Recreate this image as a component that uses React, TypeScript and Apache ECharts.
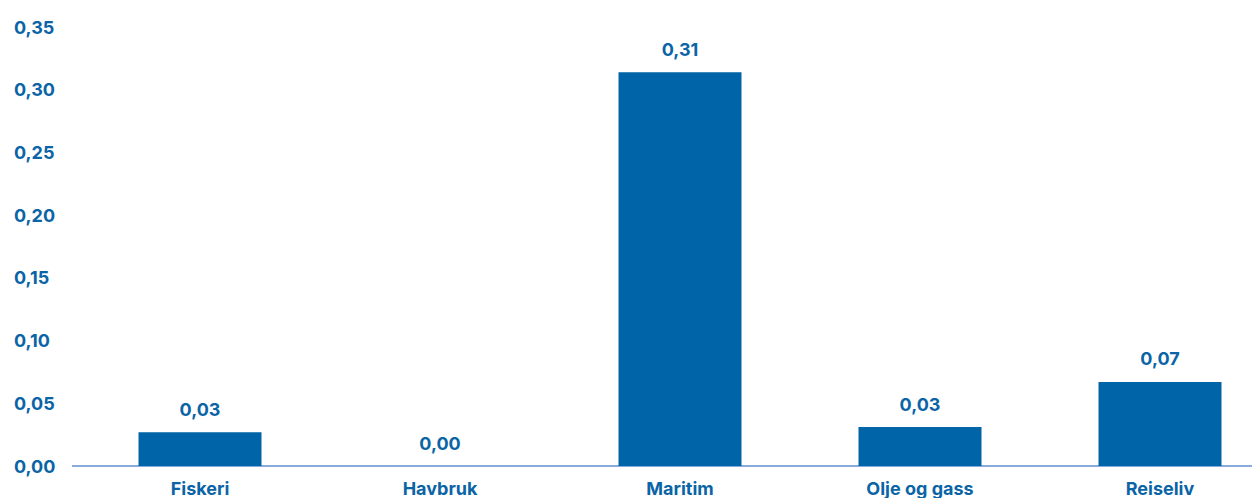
import React, { useEffect, useRef } from "react";
import * as echarts from "echarts";

const categories = ["Fiskeri", "Havbruk", "Maritim", "Olje og gass", "Reiseliv"];
const values = [0.027, 0.0, 0.314, 0.031, 0.067];
const yTicks = { min: 0, max: 0.35, interval: 0.05 };

const BLUE = "#0065a8";
const TEXT = "#0a64a6";
const FONT = "Inter";

export default function App() {
  const ref = useRef<HTMLDivElement>(null);
  useEffect(() => {
    if (!ref.current) return;
    const chart = echarts.init(ref.current, null, { renderer: "svg" });
    chart.setOption({
      animation: false,
      grid: { left: 80, top: 27, bottom: 32, right: 0, containLabel: false, outerBoundsMode: "none" },
      xAxis: {
        type: "category",
        data: categories,
        axisLine: { lineStyle: { color: "#8aaadb", width: 2 } },
        axisTick: { show: false },
        axisLabel: {
          color: TEXT,
          fontFamily: FONT,
          fontWeight: 700,
          fontSize: 18,
          margin: 13,
        },
      },
      yAxis: {
        type: "value",
        min: yTicks.min,
        max: yTicks.max,
        interval: yTicks.interval,
        splitLine: { show: false },
        axisLine: { show: false },
        axisTick: { show: false },
        axisLabel: {
          color: TEXT,
          fontFamily: FONT,
          fontWeight: 700,
          fontSize: 18,
          margin: 66,
          align: "left",
          formatter: (v: number) => v.toFixed(2).replace(".", ","),
        },
      },
      graphic: [
        {
          type: "line",
          shape: { x1: 72, y1: 466, x2: 81, y2: 466 },
          style: { stroke: "#8aaadb", lineWidth: 2 },
        },
      ],
      series: [
        {
          type: "bar",
          data: values,
          barWidth: 123,
          itemStyle: { color: BLUE },
          label: {
            show: true,
            position: "top",
            distance: 14,
            color: TEXT,
            fontFamily: FONT,
            fontWeight: 700,
            fontSize: 18,
            formatter: (p: any) => Number(p.value).toFixed(2).replace(".", ","),
          },
        },
      ],
    });
    return () => chart.dispose();
  }, []);
  return (
    <div style={{ width: 1252, height: 498, position: "absolute", left: 0, top: 0, overflow: "hidden" }}>
      <div ref={ref} style={{ width: 1280, height: 498 }} />
    </div>
  );
}
